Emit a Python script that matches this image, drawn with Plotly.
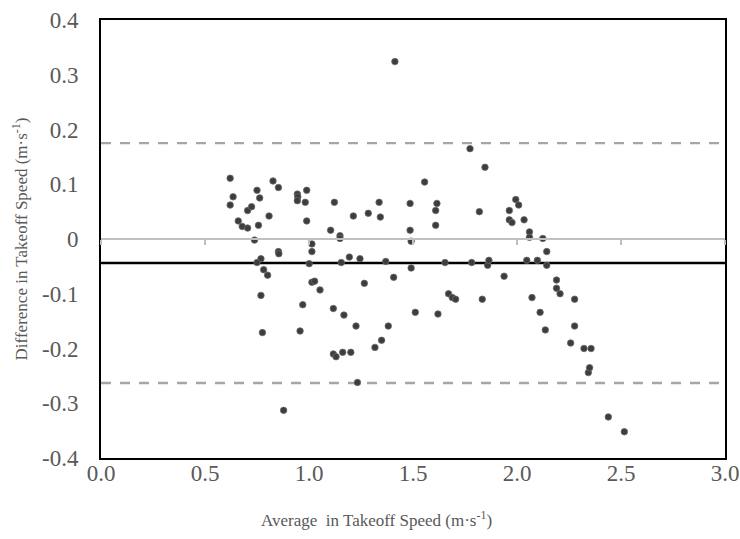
import plotly.graph_objects as go

# ---- data ----
avg_speed = [
    0.621, 0.635, 0.621, 0.660, 0.679, 0.705, 0.705, 0.724, 0.750, 0.763,
    0.757, 0.738, 0.769, 0.750, 0.782, 0.801, 0.769, 0.776, 0.808, 0.827,
    0.853, 0.853, 0.855, 0.878, 0.944, 0.946, 0.944, 0.989, 0.982, 0.989,
    1.014, 1.014, 1.001, 1.014, 1.027, 1.053, 0.970, 0.957, 1.122, 1.104,
    1.149, 1.149, 1.155, 1.194, 1.213, 1.245, 1.117, 1.168, 1.117, 1.130,
    1.162, 1.201, 1.226, 1.233, 1.266, 1.285, 1.317, 1.337, 1.343, 1.349,
    1.369, 1.381, 1.407, 1.413, 1.486, 1.486, 1.491, 1.491, 1.511, 1.556,
    1.609, 1.615, 1.609, 1.620, 1.654, 1.671, 1.689, 1.705, 1.774, 1.782,
    1.819, 1.833, 1.846, 1.859, 1.865, 1.938, 1.963, 1.963, 1.976, 1.994,
    2.008, 2.034, 2.047, 2.060, 2.060, 2.072, 2.098, 2.111, 2.124, 2.136,
    2.143, 2.143, 2.190, 2.190, 2.207, 2.258, 2.277, 2.277, 2.322, 2.343,
    2.349, 2.356, 2.439, 2.516,
]
diff_speed = [
    0.111, 0.077, 0.062, 0.033, 0.023, 0.020, 0.052, 0.059, 0.089, 0.075,
    0.025, -0.002, -0.036, -0.043, -0.056, -0.066, -0.103, -0.171, 0.042, 0.106,
    0.094, -0.023, -0.027, -0.313, 0.082, 0.077, 0.070, 0.089, 0.067, 0.033,
    -0.009, -0.023, -0.045, -0.079, -0.077, -0.093, -0.120, -0.168, 0.067, 0.016,
    0.006, 0.001, -0.043, -0.033, 0.042, -0.036, -0.127, -0.139, -0.210, -0.215,
    -0.207, -0.207, -0.159, -0.262, -0.081, 0.047, -0.198, 0.067, 0.040, -0.185,
    -0.041, -0.159, -0.070, 0.324, 0.065, 0.016, -0.004, -0.053, -0.134, 0.104,
    0.052, 0.065, 0.025, -0.137, -0.043, -0.100, -0.107, -0.110, 0.165, -0.043,
    0.050, -0.110, 0.131, -0.048, -0.039, -0.068, 0.052, 0.035, 0.030, 0.072,
    0.062, 0.035, -0.039, 0.013, 0.003, -0.107, -0.039, -0.134, 0.001, -0.166,
    -0.023, -0.048, -0.075, -0.090, -0.100, -0.190, -0.110, -0.159, -0.200, -0.244,
    -0.235, -0.200, -0.325, -0.352,
]
mean_bias = -0.044
upper_loa = 0.175
lower_loa = -0.263

x_tickvals = [0.0, 0.5, 1.0, 1.5, 2.0, 2.5, 3.0]
x_ticktext = ["0.0", "0.5", "1.0", "1.5", "2.0", "2.5", "3.0"]
y_tickvals = [0.4, 0.3, 0.2, 0.1, 0.0, -0.1, -0.2, -0.3, -0.4]
y_ticktext = ["0.4", "0.3", "0.2", "0.1", "0", "-0.1", "-0.2", "-0.3", "-0.4"]

x_title = "Average  in Takeoff Speed (m·s<sup>-1</sup>)"
y_title = "Difference in Takeoff Speed (m·s<sup>-1</sup>)"

FONT = "Liberation Serif"
GREY = "#595959"

fig = go.Figure()

# limits of agreement and bias
for val in (upper_loa, lower_loa):
    fig.add_hline(y=val, line=dict(color="#A6A6A6", width=2.3, dash="10px,9px"), layer="below")
fig.add_hline(y=mean_bias, line=dict(color="black", width=2.5), layer="below")

fig.add_trace(go.Scatter(
    x=avg_speed, y=diff_speed, mode="markers",
    marker=dict(size=6.5, color="#3d3d3d", line=dict(width=0.8, color="#6a6a6a")),
    showlegend=False, hoverinfo="x+y",
))

# invisible trace on the zero-crossing x axis so it renders
fig.add_trace(go.Scatter(x=[0, 3], y=[0, 0], xaxis="x2", mode="lines",
                         line=dict(width=0), showlegend=False, hoverinfo="skip"))

# x-axis title (offset left of centre as in the original)
fig.add_annotation(text=x_title, xref="paper", yref="paper", x=0.442, y=-0.140,
                   xanchor="center", yanchor="middle", showarrow=False,
                   font=dict(size=17, color=GREY, family=FONT))

fig.update_layout(
    width=740, height=539,
    margin=dict(l=101, r=15, t=20, b=81),
    paper_bgcolor="white", plot_bgcolor="white",
    font=dict(family=FONT, color=GREY),
    xaxis=dict(
        range=[0, 3], tickvals=x_tickvals, ticktext=x_ticktext, automargin=False,
        showgrid=False, zeroline=False, showline=True, linecolor="black",
        linewidth=2, mirror=True, ticks="", ticklabelstandoff=-7,
        tickfont=dict(size=23, color=GREY, family=FONT),
    ),
    xaxis2=dict(
        range=[0, 3], overlaying="x", anchor="free", position=0.5, automargin=False,
        tickvals=x_tickvals, showticklabels=False, showgrid=False, zeroline=False,
        showline=True, linecolor="#C0C0C0", linewidth=2,
        ticks="outside", ticklen=5, tickwidth=1.5, tickcolor="#C0C0C0",
    ),
    yaxis=dict(
        range=[-0.4, 0.4], tickvals=y_tickvals, ticktext=y_ticktext, automargin=False,
        showgrid=False, zeroline=False, showline=True, linecolor="black",
        linewidth=2, mirror=True, ticks="", ticklabelstandoff=16,
        tickfont=dict(size=23, color=GREY, family=FONT),
        title=dict(text=y_title, font=dict(size=17, color=GREY, family=FONT), standoff=10),
    ),
)

fig.write_html("out.html")
